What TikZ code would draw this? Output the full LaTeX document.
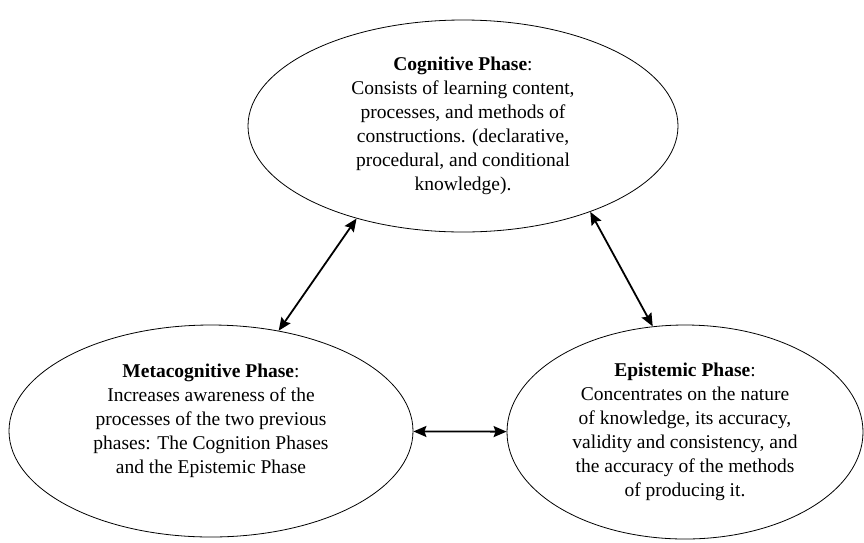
\documentclass[tikz,border=0pt]{standalone}
\usepackage{fontspec}
\setmainfont{Liberation Serif}
\usepackage{tikz}
\usetikzlibrary{shapes.geometric, arrows.meta}
\tikzstyle{arrow} = [line width=1.8pt,<->,>={Stealth[length=13pt,width=11pt,inset=2pt]}]
\tikzstyle{phase} = [ellipse,draw,line width=0.8pt,inner sep=0pt,align=center,
                     font=\fontsize{19.5}{24}\selectfont]

\begin{document}
\begin{tikzpicture}[x=1pt,y=-1pt]
  \useasboundingbox (0,0) rectangle (864,542);

  %the three phases
  \node[phase,minimum width=430pt,minimum height=212pt] (cog) at (463,126)
    {\textbf{Cognitive Phase}:\\ Consists of learning content,\\ processes, and methods of\\
     constructions. (declarative,\\ procedural, and conditional\\ knowledge).};
  \node[phase,minimum width=404pt,minimum height=212pt,text depth=24pt] (meta) at (211,431)
    {\textbf{Metacognitive Phase}:\\ Increases awareness of the\\ processes of the two previous\\
     phases: The Cognition Phases\\ and the Epistemic Phase};
  \node[phase,minimum width=356pt,minimum height=214pt] (epi) at (685,432)
    {\textbf{Epistemic Phase}:\\ Concentrates on the nature\\ of knowledge, its accuracy,\\
     validity and consistency, and\\ the accuracy of the methods\\ of producing it.};

  %links between them
  \draw[arrow] (cog.221) -- (meta.56);
  \draw[arrow] (cog.326) -- (epi.107);
  \draw[arrow] (meta) -- (epi);
\end{tikzpicture}
\end{document}
